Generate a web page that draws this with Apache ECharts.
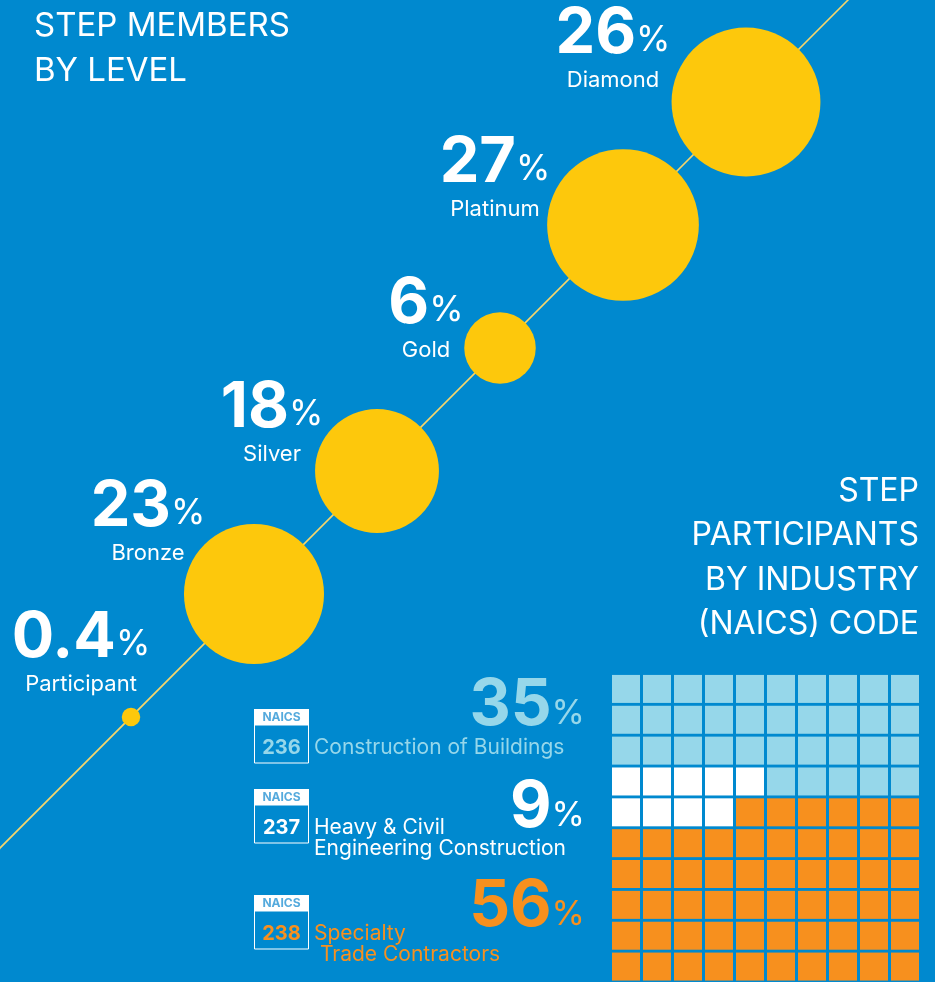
<!DOCTYPE html>
<html><head><meta charset="utf-8">
<script src="https://cdn.jsdelivr.net/npm/echarts@6/dist/echarts.min.js"></script>
<style>html,body{margin:0;padding:0;background:#0089CF;}#c{width:935px;height:982px;}</style>
</head><body><div id="c"></div>
<script>
// ---- data ----
const levels = ['Participant', 'Bronze', 'Silver', 'Gold', 'Platinum', 'Diamond'];
const levelShares = [0.4, 23, 18, 6, 27, 26];
const naicsCodes = ['236', '237', '238'];
const industryNames = ['Construction of Buildings', 'Heavy & Civil\nEngineering Construction', 'Specialty\n Trade Contractors'];
const industryShares = [35, 9, 56];

// ---- layout / style ----
const FONT = 'Inter, Lato, sans-serif';
const BG = '#0089CF';
const YELLOW = '#FDC80C';
const industryColors = ['#96D7EA', '#FFFFFF', '#F7901E'];
const labelOffsets = [[-50, -65], [-106, -73], [-105, -49], [-74, -30], [-128, -48], [-133, -54]];
const industryTops = [709, 789, 895];
const industryPctY = [708, 810, 909];

const chart = echarts.init(document.getElementById('c'), null, {renderer: 'canvas'});

// level index -> position along the diagonal (equal steps)
const levelData = levels.map((name, i) => ({
  name: name,
  value: [i, i, levelShares[i]],
  label: {offset: labelOffsets[i]}
}));

// waffle cells
const grp = new Array(100).fill(1);
for (let k = 0; k < industryShares[0]; k++) {
  const r = Math.floor(k / 10), c = 9 - (k % 10);
  grp[r * 10 + c] = 0;
}
for (let k = 0; k < industryShares[2]; k++) {
  const r = 9 - Math.floor(k / 10), c = 9 - (k % 10);
  grp[r * 10 + c] = 2;
}
const waffleData = [];
for (let r = 0; r < 10; r++) for (let c = 0; c < 10; c++) waffleData.push([c, r, grp[r * 10 + c]]);
const idx10 = Array.from({length: 10}, (_, i) => String(i));

const graphics = [];
graphics.push({
  type: 'text', left: 34, top: 4,
  style: {text: 'STEP MEMBERS\nBY LEVEL', font: '33px ' + FONT, fill: '#fff', lineHeight: 45}
});
graphics.push({
  type: 'text', right: 16, top: 469,
  style: {text: 'STEP\nPARTICIPANTS\nBY INDUSTRY\n(NAICS) CODE', font: '32px ' + FONT, fill: '#fff', lineHeight: 44.5, align: 'right', textAlign: 'right'}
});
naicsCodes.forEach((code, i) => {
  const top = industryTops[i];
  const col = industryColors[i];
  graphics.push({type: 'rect', shape: {x: 254, y: top, width: 55, height: 16}, style: {fill: '#fff'}});
  graphics.push({type: 'text', style: {text: 'NAICS', x: 281.5, y: top + 8.5, align: 'center', verticalAlign: 'middle', textAlign: 'center', textVerticalAlign: 'middle', font: 'bold 12px ' + FONT, fill: '#55AADD'}});
  graphics.push({type: 'rect', shape: {x: 254.5, y: top + 16, width: 54, height: 38}, style: {fill: 'none', stroke: '#fff', lineWidth: 1}});
  graphics.push({type: 'text', style: {text: code, x: 281.5, y: top + 39, align: 'center', verticalAlign: 'middle', textAlign: 'center', textVerticalAlign: 'middle', font: 'bold 20px ' + FONT, fill: col}});
  graphics.push({type: 'text', style: {text: industryNames[i], x: 314, y: top + 28, align: 'left', verticalAlign: 'top', textAlign: 'left', textVerticalAlign: 'top', font: '21px ' + FONT, fill: col, lineHeight: 21}});
  graphics.push({type: 'text', style: {
    text: '{n|' + industryShares[i] + '}{p|%}', x: 585, y: industryPctY[i],
    align: 'right', verticalAlign: 'middle', textAlign: 'right', textVerticalAlign: 'middle',
    rich: {
      n: {font: 'bold 64px ' + FONT, fill: col, color: col, lineHeight: 60, verticalAlign: 'bottom'},
      p: {font: '34px ' + FONT, fill: col, color: col, verticalAlign: 'bottom', padding: [0, 0, 7, 0]}
    }
  }});
});

const option = {
  backgroundColor: BG,
  animation: false,
  grid: [
    {left: 0, top: 0, width: 935, height: 982},
    {left: 610.5, top: 673.5, width: 310, height: 310}
  ],
  xAxis: [
    {type: 'value', gridIndex: 0, min: -131 / 123, max: (935 - 131) / 123, show: false},
    {type: 'category', gridIndex: 1, data: idx10, show: false}
  ],
  yAxis: [
    {type: 'value', gridIndex: 0, min: (717 - 982) / 123, max: 717 / 123, show: false},
    {type: 'category', gridIndex: 1, data: idx10, inverse: true, show: false}
  ],
  series: [
    {
      type: 'line', xAxisIndex: 0, yAxisIndex: 0, data: [[-3, -3], [9, 9]],
      symbol: 'none', silent: true, z: 1,
      lineStyle: {color: '#F7D66A', width: 1.6}
    },
    {
      type: 'scatter', xAxisIndex: 0, yAxisIndex: 0, z: 2,
      data: levelData,
      symbolSize: v => 29.2 * Math.sqrt(v[2]),
      itemStyle: {color: YELLOW, opacity: 1},
      label: {
        show: true, position: 'inside',
        formatter: p => '{n|' + p.value[2] + '}{p|%}\n{s|' + p.name + '}',
        rich: {
          n: {fontFamily: FONT, fontSize: 63, fontWeight: 'bold', color: '#fff', lineHeight: 64, verticalAlign: 'bottom'},
          p: {fontFamily: FONT, fontSize: 35, color: '#fff', verticalAlign: 'bottom', padding: [0, 0, 8, 0]},
          s: {fontFamily: FONT, fontSize: 22, color: '#fff', lineHeight: 28}
        }
      },
      emphasis: {disabled: true}
    },
    {
      type: 'scatter', xAxisIndex: 1, yAxisIndex: 1, z: 2,
      data: waffleData, symbol: 'rect', symbolSize: 28,
      itemStyle: {color: p => industryColors[p.value[2]], opacity: 1},
      emphasis: {disabled: true}
    }
  ],
  graphic: graphics
};
chart.setOption(option);
</script>
</body></html>
